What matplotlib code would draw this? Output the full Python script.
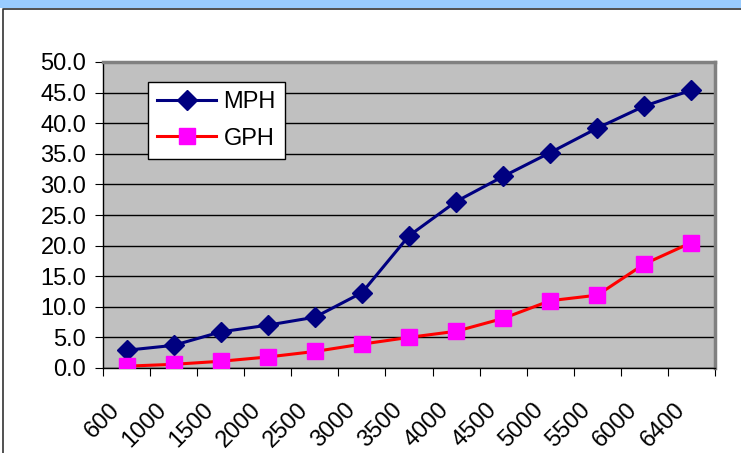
import matplotlib.pyplot as plt
import matplotlib.patches as mpatches
from matplotlib.ticker import FixedLocator, NullFormatter
from matplotlib.transforms import ScaledTranslation

plt.rcParams['font.family'] = ['Liberation Sans', 'DejaVu Sans']

# data
rpm = ['600', '1000', '1500', '2000', '2500', '3000', '3500',
       '4000', '4500', '5000', '5500', '6000', '6400']
mph = [2.9, 3.7, 5.9, 7.0, 8.3, 12.3, 21.6, 27.2, 31.3, 35.2, 39.2, 42.8, 45.4]
gph = [0.3, 0.6, 1.1, 1.8, 2.7, 3.9, 5.0, 6.0, 8.1, 11.0, 11.9, 17.0, 20.5]

fig = plt.figure(figsize=(7.41, 4.53), dpi=100)

# top band and chart frame
fig.patches.append(mpatches.Rectangle((0, 1 - 8/453), 1, 8/453, transform=fig.transFigure,
                                      facecolor='#99CCFF', edgecolor='none'))
fig.lines.append(plt.Line2D([3/741, 3/741, 1], [0, 1 - 9/453, 1 - 9/453],
                            transform=fig.transFigure, color='#333333', lw=1.2))

ax = fig.add_axes([103/741, 1 - 368/453, 612/741, 306/453])
ax.set_facecolor('#C0C0C0')

x = list(range(len(rpm)))
ax.plot(x, mph, color='#000080', lw=2.2, marker='D', ms=10.5, label='MPH', zorder=3)
ax.plot(x, gph, color='#FF0000', lw=2.2, marker='s', ms=12,
        markerfacecolor='#FF00FF', markeredgecolor='#FF00FF', label='GPH', zorder=3)

ax.set_xlim(-0.5, len(rpm) - 0.5)
ax.set_ylim(0, 50)
ax.set_yticks([i * 5 for i in range(11)])
ax.set_yticklabels(['%.1f' % (i * 5) for i in range(11)], fontsize=17)
ax.yaxis.grid(True, color='black', lw=1)
ax.set_axisbelow(True)

ax.xaxis.set_major_locator(FixedLocator([i - 0.5 for i in range(len(rpm) + 1)]))
ax.xaxis.set_major_formatter(NullFormatter())
ax.set_xticks(x, minor=True)
ax.set_xticklabels(rpm, minor=True, rotation=45, ha='right', rotation_mode='anchor', fontsize=17)
ax.tick_params(axis='x', which='minor', length=0, pad=22)
ax.tick_params(axis='y', which='major', pad=6)
ax.tick_params(axis='both', which='major', length=6, direction='out', color='black')

# shift rotated labels left like the original
shift = ScaledTranslation(-18/100, 0, fig.dpi_scale_trans)
for lbl in ax.get_xticklabels(minor=True):
    lbl.set_transform(lbl.get_transform() + shift)

for s in ['top', 'right']:
    ax.spines[s].set_color('#808080')
    ax.spines[s].set_linewidth(2.5)
for s in ['left', 'bottom']:
    ax.spines[s].set_color('black')
    ax.spines[s].set_linewidth(1)

leg = ax.legend(loc='upper left', bbox_to_anchor=(45/612, 1 - 20/306), fontsize=17,
                fancybox=False, framealpha=1, edgecolor='black', borderpad=0.4,
                handlelength=2.5, handletextpad=0.3, labelspacing=0.6, borderaxespad=0)
leg.get_frame().set_linewidth(1)

fig.savefig('out.png', dpi=100)
